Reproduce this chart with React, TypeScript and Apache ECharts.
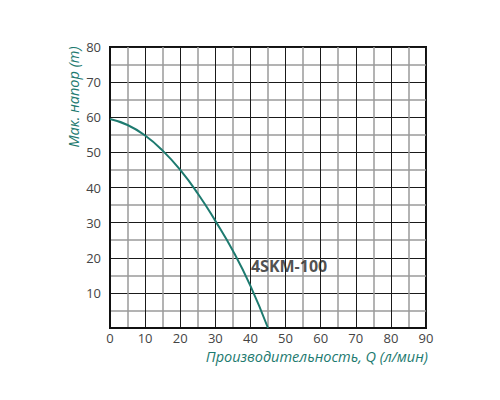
import React, { useEffect, useRef } from "react";
import * as echarts from "echarts";

const flowQ = [0, 5, 10, 15, 20, 25, 30, 35, 40, 45];
const headH = [59.5, 57.8, 54.8, 50.5, 45, 38.3, 30.5, 22, 12, 0];
const modelName = "4SKM-100";
const modelLabelAt = [40, 17.6];
const xTitle = "Производительность, Q (л/мин)";
const yTitle = "Мак. напор (m)";

export default function App() {
  const ref = useRef<HTMLDivElement>(null);
  useEffect(() => {
    const chart = echarts.init(ref.current!, null, { renderer: "svg" });
    const teal = "#1d7a6f";
    const axisCommon = {
      type: "value",
      interval: 10,
      min: 0,
      axisLine: { show: true, lineStyle: { color: "#111", width: 2 } },
      axisTick: { show: false },
      splitLine: { show: true, lineStyle: { color: "#1a1a1a", width: 1 } },
      minorTick: { show: false, splitNumber: 2 },
      minorSplitLine: { show: true, lineStyle: { color: "#9a9a9a", width: 1.5 } },
      axisLabel: { color: "#444", fontSize: 13, fontFamily: "Open Sans" },
    };
    chart.setOption({
      animation: false,
      grid: {
        left: 110,
        right: 74,
        top: 47,
        bottom: 72,
        show: true,
        borderColor: "#111",
        borderWidth: 2,
        backgroundColor: "#fff",
      },
      xAxis: { ...axisCommon, max: 90, axisLabel: { ...axisCommon.axisLabel, margin: 3 } },
      yAxis: {
        ...axisCommon,
        max: 80,
        axisLabel: {
          ...axisCommon.axisLabel,
          margin: 9,
          formatter: (v: number) => (v === 0 ? "" : String(v)),
        },
      },
      graphic: [
        {
          type: "text",
          x: 73,
          y: 97,
          rotation: Math.PI / 2,
          style: {
            text: yTitle,
            fill: teal,
            font: "italic 14.5px 'Open Sans'",
            align: "center",
            verticalAlign: "middle",
          },
        },
        {
          type: "text",
          x: 428,
          y: 356,
          style: {
            text: xTitle,
            fill: teal,
            font: "italic 14.5px 'Open Sans'",
            align: "right",
            verticalAlign: "middle",
          },
        },
      ],
      series: [
        {
          type: "line",
          data: flowQ.map((q, i) => [q, headH[i]]),
          smooth: true,
          showSymbol: false,
          lineStyle: { color: teal, width: 2 },
        },
        {
          type: "scatter",
          data: [modelLabelAt],
          symbolSize: 1,
          itemStyle: { color: "rgba(0,0,0,0)" },
          label: {
            show: true,
            formatter: modelName,
            position: "right",
            distance: 0,
            color: "#222",
            fontSize: 16,
            fontWeight: "bold",
            fontFamily: "Open Sans",
          },
        },
      ],
    });
    return () => chart.dispose();
  }, []);
  return (
    <div
      ref={ref}
      style={{ position: "absolute", left: 0, top: 0, width: 500, height: 400 }}
    />
  );
}
